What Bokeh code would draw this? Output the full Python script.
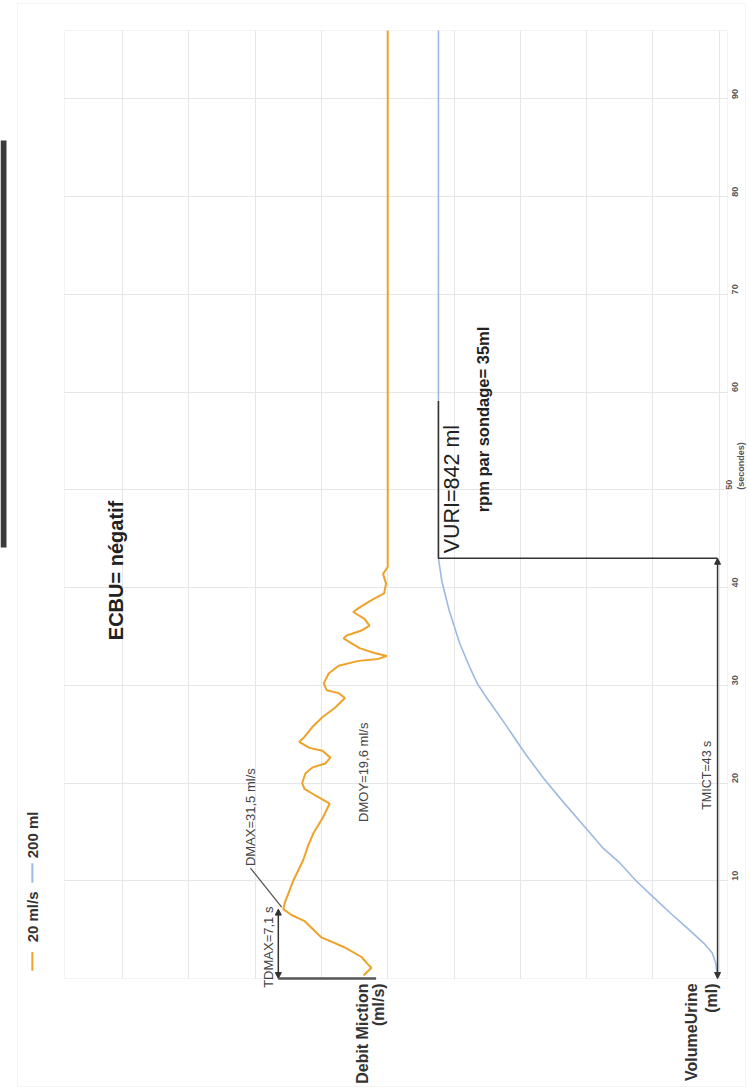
from math import pi
from bokeh.plotting import figure
from bokeh.models import (Range1d, FixedTicker, SingleIntervalTicker, Grid, Label, Arrow,
                          NormalHead, BoxAnnotation)
from bokeh.embed import file_html
from bokeh.resources import INLINE

# ---------------- data ----------------
flow_time = [0.3, 1.1, 1.5, 2.2, 3.2, 4.2, 5.9, 6.5, 7.1, 7.8, 10.0, 12.1, 13.6, 14.8, 16.5,
             17.9, 18.7, 19.4, 20.0, 21.0, 21.6, 22.0, 22.6, 23.3, 23.6, 24.2, 24.7, 25.7,
             26.7, 27.7, 28.7, 29.2, 29.5, 30.2, 31.2, 32.0, 32.5, 32.7, 33.0, 33.3, 33.8,
             34.3, 34.8, 35.1, 35.6, 36.1, 36.8, 37.5, 37.9, 38.7, 39.4, 40.4, 41.4, 42.1, 97.0]
flow_rate = [7.3, 4.9, 6.1, 7.9, 13.1, 20.0, 25.2, 29.0, 31.5, 31.0, 28.5, 25.5, 24.0, 22.5, 19.5,
             17.5, 21.7, 25.1, 25.8, 24.8, 22.7, 18.8, 17.3, 19.7, 23.6, 26.7, 25.2, 22.8,
             19.8, 15.9, 12.9, 14.8, 18.4, 19.3, 17.8, 14.8, 8.8, 2.8, 0.3, 4.0, 8.5,
             10.9, 13.3, 12.4, 7.9, 5.5, 7.0, 10.4, 8.8, 5.0, 1.1, 0.5, 1.4, 0.0, 0.0]

vol_time = [0.0, 1.5, 2.6, 3.6, 5.2, 6.65, 8.3, 10.0, 11.8, 13.4, 15.45, 18.2, 20.5, 23.0,
            26.0, 28.75, 30.2, 31.8, 34.3, 37.7, 40.7, 43.0, 97.0]
vol_ml = [0, 5, 16, 41, 93, 141, 193, 246, 294, 347, 399, 469, 525, 580,
          640, 697, 725, 747, 778, 810, 832, 842, 842]

time_ticks = [10, 20, 30, 40, 50, 60, 70, 80, 90]
time_tick_labels = {50: "50\n(secondes)"}
DMAX = 31.5      # ml/s
TDMAX = 7.1      # s
VURI = 842       # ml
TMICT = 43       # s

# ---------------- layout / style ----------------
FONT = "Liberation Sans"
ORANGE = "#EFA22A"
BLUE = "#9DB9E2"
DARK = "#333333"
GRID = "#e6e6e6"

W, H = 750, 1090
PXF = 663 / 200.0          # px per ml/s
PXT = 948 / 97.0           # px per second
FLOW_L, FLOW_R = 97.5, -102.5
VOL_L, VOL_R = 1970.0, -30.0
PXV = 663 / (VOL_L - VOL_R)
RIGHT_PAD = W - 727

p = figure(width=W, height=H, output_backend="svg", toolbar_location=None,
           x_range=Range1d(FLOW_L + 64 / PXF, FLOW_R - RIGHT_PAD / PXF),
           y_range=Range1d(-(H - 978) / PXT, 97 + 30 / PXT),
           x_axis_location=None, y_axis_location="right",
           min_border_left=0, min_border_right=0, min_border_top=0, min_border_bottom=0,
           background_fill_color="white", border_fill_color="white",
           outline_line_color=None)
p.extra_x_ranges = {"vol": Range1d(VOL_L + 64 / PXV, VOL_R - RIGHT_PAD / PXV)}

for g in p.grid:
    g.visible = False
try:
    gx = Grid(dimension=0, ticker=SingleIntervalTicker(interval=20), bounds=(FLOW_R, FLOW_L),
              cross_bounds=(0, 97), grid_line_color=GRID, grid_line_width=1)
    gy = Grid(dimension=1, ticker=FixedTicker(ticks=time_ticks), bounds=(0, 97),
              cross_bounds=(FLOW_R, FLOW_L), grid_line_color=GRID, grid_line_width=1)
    p.add_layout(gx)
    p.add_layout(gy)
except AttributeError:
    xs = list(range(-100, 97, 20))
    p.segment(x0=xs, y0=[0] * len(xs), x1=xs, y1=[97] * len(xs), line_color=GRID)
    p.segment(x0=[FLOW_R] * 9, y0=time_ticks, x1=[FLOW_L] * 9, y1=time_ticks, line_color=GRID)

# chart box and page border
p.add_layout(BoxAnnotation(left=FLOW_L, right=FLOW_R, bottom=0, top=97, fill_color=None,
                           line_color="#d6d6d6", line_width=1))
p.add_layout(BoxAnnotation(left=FLOW_L + 47 / PXF, right=FLOW_R - 18 / PXF,
                           bottom=-(1086 - 978) / PXT, top=(978 - 3) / PXT, fill_color=None,
                           line_color="#dcdcdc", line_width=1))
# cut-off title bar at the left edge
p.add_layout(BoxAnnotation(left=FLOW_L + 64 / PXF, right=FLOW_L + 58 / PXF,
                           bottom=(978 - 547) / PXT, top=(978 - 140) / PXT,
                           fill_color="#3a3a3a", fill_alpha=1, line_color=None))

ax = p.yaxis[0]
ax.fixed_location = FLOW_R
ax.ticker = FixedTicker(ticks=time_ticks)
ax.major_label_overrides = time_tick_labels
ax.major_label_orientation = pi / 2
ax.major_label_text_font = FONT
ax.major_label_text_font_size = "9px"
ax.major_label_text_font_style = "bold"
ax.major_label_text_color = "#555555"
ax.major_label_standoff = 2
ax.axis_line_color = None
ax.major_tick_line_color = None
ax.minor_tick_line_color = None

# curves
p.line(x=flow_rate, y=flow_time, line_color=ORANGE, line_width=2)
p.line(x=vol_ml, y=vol_time, x_range_name="vol", line_color=BLUE, line_width=1.6)

# VURI bracket
p.line(x=[VURI, VURI, 0], y=[59.1, TMICT, TMICT], x_range_name="vol",
       line_color=DARK, line_width=1.5)
# DMAX pointer
p.line(x=[41.4, DMAX + 0.5], y=[11.3, TDMAX + 0.2], line_color="#555555", line_width=1.3)


def head():
    return NormalHead(size=6, fill_color=DARK, line_color=DARK)


p.add_layout(Arrow(start=head(), end=head(), x_start=0, y_start=0, x_end=0, y_end=TMICT,
                   x_range_name="vol", line_color=DARK, line_width=1.5))
p.add_layout(Arrow(start=head(), end=head(), x_start=33, y_start=0, x_end=33, y_end=TDMAX,
                   line_color=DARK, line_width=1.5))
p.add_layout(Arrow(start=None, end=None, x_start=33, y_start=0, x_end=3.5, y_end=0,
                   line_color="#555555", line_width=2.5))
# legend dashes
p.add_layout(Arrow(start=None, end=None, x_start=107.2, y_start=0.8, x_end=107.2, y_end=2.7,
                   line_color=ORANGE, line_width=2))
p.add_layout(Arrow(start=None, end=None, x_start=107.2, y_start=9.8, x_end=107.2, y_end=11.8,
                   line_color=BLUE, line_width=2))


def lab(text, x, y, size, align="center", style="normal", color=DARK, rng="default"):
    p.add_layout(Label(x=x, y=y, text=text, angle=pi / 2, text_align=align,
                       text_baseline="middle", text_font=FONT, text_font_size=f"{size}px",
                       text_font_style=style, text_color=color, x_range_name=rng))


lab("20 ml/s", 107.2, 3.7, 15, align="left", style="bold")
lab("200 ml", 107.2, 12.3, 15, align="left", style="bold")
lab("ECBU= négatif", 82.0, 41.75, 20, style="bold", color="#222222")
lab("VURI=842 ml", 800, 43.5, 21.5, align="left", color="#222222", rng="vol")
lab("rpm par sondage= 35ml", 709, 47.7, 16.5, align="left", style="bold", color="#222222", rng="vol")
lab("DMAX=31,5 ml/s", 41.4, 11.5, 13, align="left", color="#444444")
lab("TDMAX=7,1 s", 36.0, 3.2, 13, color="#444444")
lab("DMOY=19,6 ml/s", 7.3, 21.1, 13, color="#444444")
lab("TMICT=43 s", 33, 20.8, 12.5, color="#444444", rng="vol")
lab("Debit Miction", 7.6, -0.5, 16, align="right", style="bold")
lab("(ml/s)", 2.8, -0.5, 16, align="right", style="bold")
lab("VolumeUrine", 78, -0.5, 16, align="right", style="bold", rng="vol")
lab("(ml)", 17, -0.5, 16, align="right", style="bold", rng="vol")

open("out.html", "w").write(file_html(p, INLINE))
